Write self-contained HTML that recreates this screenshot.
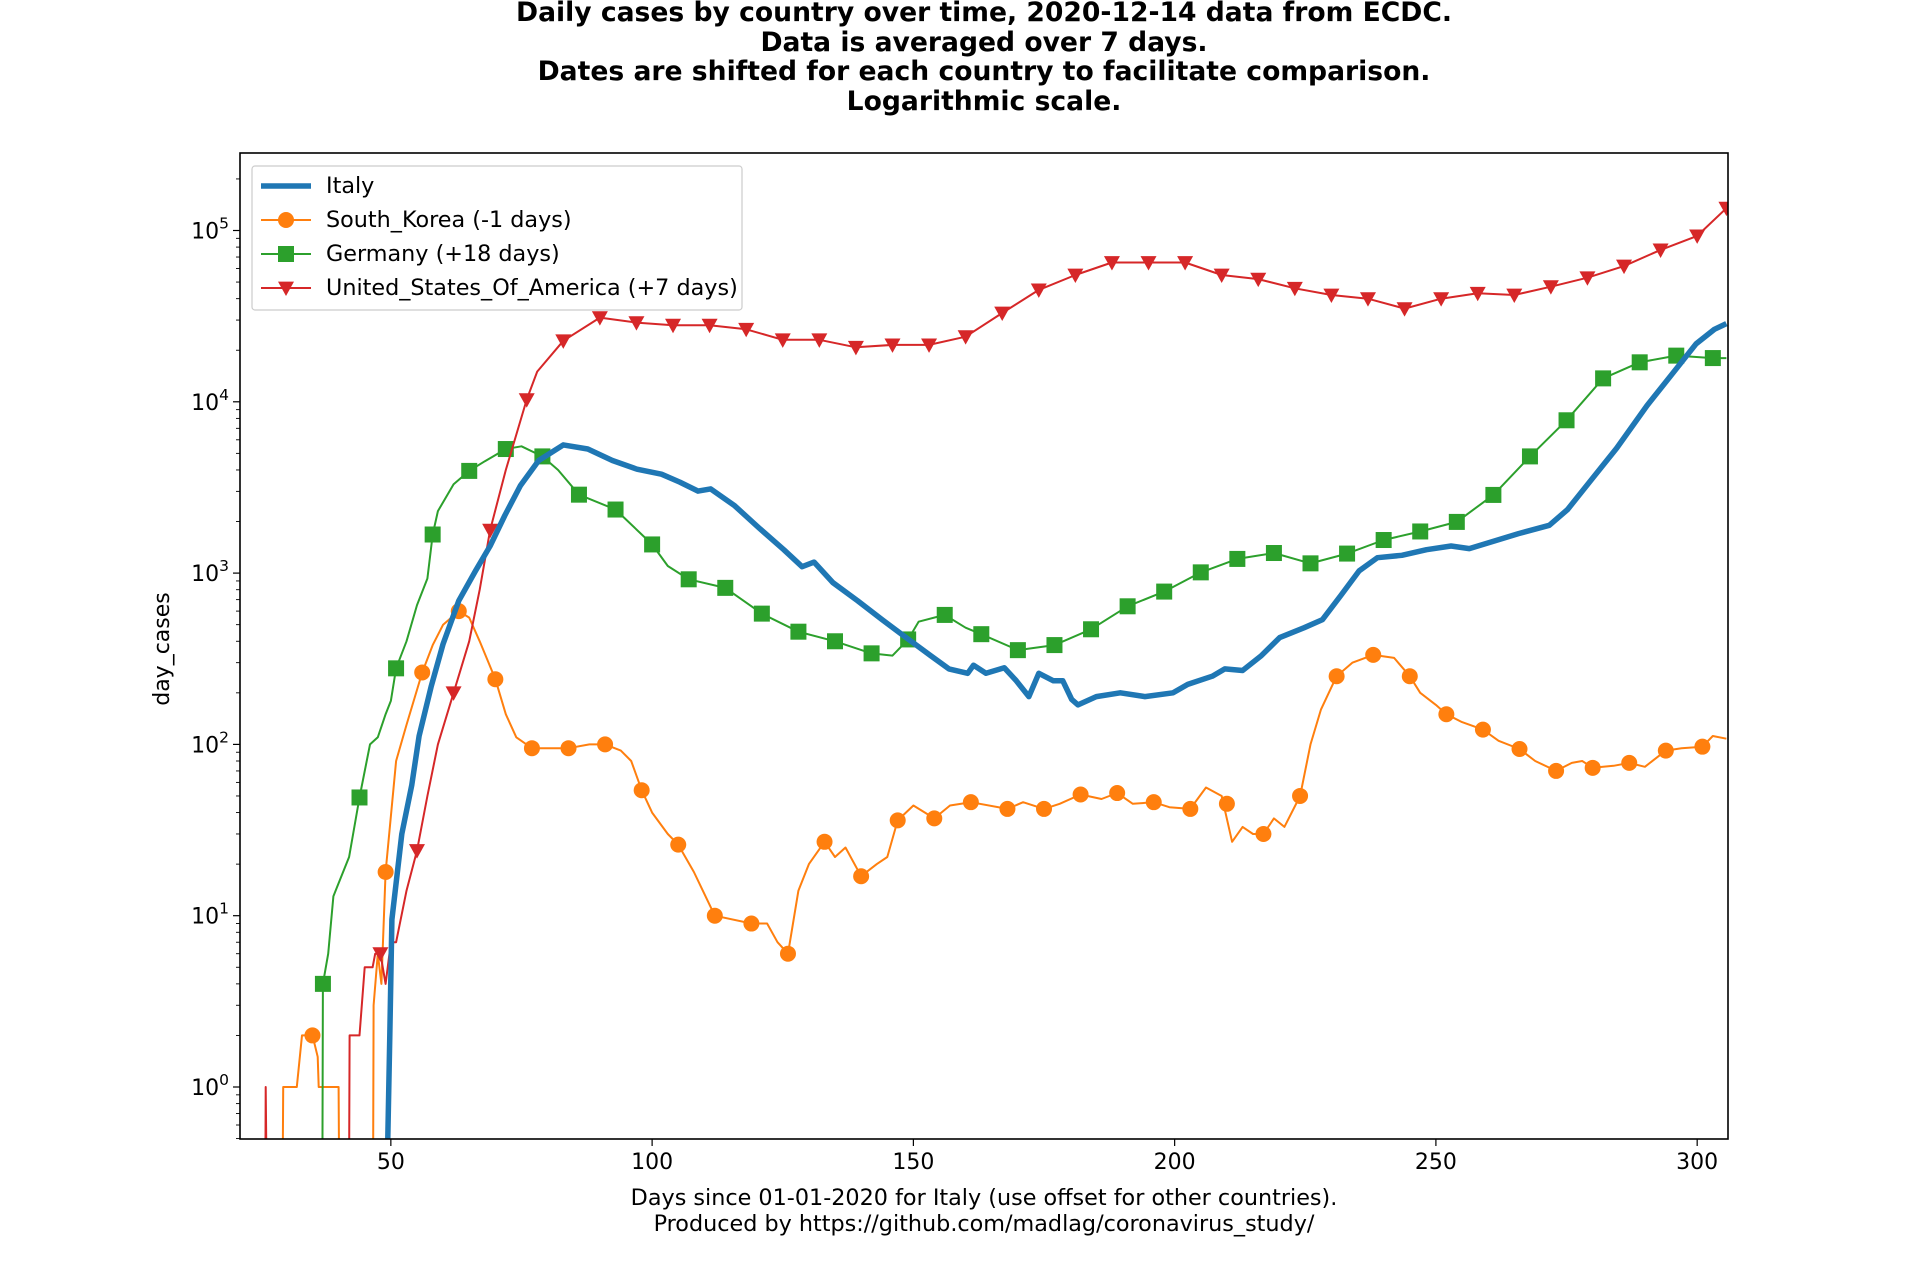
<!DOCTYPE html>
<html><head><meta charset="utf-8"><style>
body{margin:0;background:#fff}
svg text{font-family:"DejaVu Sans","Liberation Sans",sans-serif}
</style></head><body>
<svg id="chart" width="1920" height="1280" xmlns="http://www.w3.org/2000/svg">
<defs><clipPath id="plotclip"><rect x="240" y="153" width="1488" height="986"/></clipPath></defs>
<g font-weight="bold" font-size="26.6" text-anchor="middle">
<text x="984" y="21">Daily cases by country over time, 2020-12-14 data from ECDC.</text>
<text x="984" y="51">Data is averaged over 7 days.</text>
<text x="984" y="80">Dates are shifted for each country to facilitate comparison.</text>
<text x="984" y="110">Logarithmic scale.</text>
</g>
<g id="axes"></g>
<g id="series" clip-path="url(#plotclip)"></g>
<rect x="240" y="153" width="1488" height="986" fill="none" stroke="#000" stroke-width="1.6"/>
<text x="169" y="649" font-size="22" text-anchor="middle" transform="rotate(-90 169 649)">day_cases</text>
<g font-size="22.3" text-anchor="middle">
<text x="984" y="1205">Days since 01-01-2020 for Italy (use offset for other countries).</text>
<text x="984" y="1231">Produced by https://github.com/madlag/coronavirus_study/</text>
</g>
<g id="legend"></g>
</svg>
<script>
const xTicks=[50,100,150,200,250,300];
const yTickExp=[0,1,2,3,4,5];
const italyDays=[49.3,49.8,50.2,52.1,54,55.4,57.7,60,63,66.2,69,71.8,74.8,78.3,83,87.7,92.4,97.1,101.8,105.3,108.8,111.2,115.8,120.5,125.2,128.7,131,134.6,139.3,144,148.6,153.3,156.8,160.4,161.5,163.9,167.4,169.7,172.1,174,176.8,178.6,180.3,181.5,185,189.6,194.3,199.7,202.5,207.2,209.6,213,216.6,220.1,224.8,228.3,231.8,235.3,238.8,243.5,248.2,252.9,256.4,260,265.8,271.7,275.2,279.9,284.6,290.4,295.1,299.8,303.3,305.6];
const italyVals=[0,2,9.5,30,58,112,217,386,690,1030,1440,2170,3240,4540,5600,5300,4540,4040,3780,3400,3010,3100,2470,1830,1370,1090,1160,880,690,535,420,330,276,260,290,260,280,235,190,260,235,235,183,170,190,200,190,200,224,250,276,270,330,420,480,535,740,1030,1230,1270,1370,1440,1390,1500,1700,1900,2350,3550,5370,9500,14400,21800,26500,28600];
const koreaDays=[29.3,29.4,32,33,35,36,36.2,40,40.1,46.6,46.7,47.5,48.2,49,51,53,56,58,60,63,65,67,70,72,74,77,84,88,91,94,96,98,100,103,105,108,112,119,122,124,126,128,130,133,135,137,140,143,145,147,150,154,157,161,168,171,175,178,182,186,189,192,196,199,203,206,209,211,213,215,217,219,221,224,226,228,231,234,238,242,245,247,250,252,255,259,262,266,269,273,276,278,280,284,287,290,294,297,301,303,305.6];
const koreaVals=[0,1,1,2,2,1.5,1,1,0,0,3,6,4,18,80,130,263,380,500,600,550,400,240,150,110,95,95,100,100,92,80,54,40,30,26,18,10,9,9,7,6,14,20,27,22,25,17,20,22,36,44,37,44,46,42,46,42,45,51,48,52,45,46,43,42,56,50,27,33,30,30,37,33,50,100,160,250,300,333,320,250,200,170,150,135,122,105,94,80,70,78,80,73,75,78,74,92,95,97,112,108];
const koreaMarkDays=[35,49,56,63,70,77,84,91,98,105,112,119,126,133,140,147,154,161,168,175,182,189,196,203,210,217,224,231,238,245,252,259,266,273,280,287,294,301];
const koreaMarkVals=[2,18,263,600,240,95,95,100,54,26,10,9,6,27,17,36,37,46,42,42,51,52,46,42,45,30,50,250,333,250,150,122,94,70,73,78,92,97];
const germanyDays=[36.9,37,38,39,42,44,46,47.5,49,50,51,53,55,57,58,59,62,65,68,72,75,79,82,86,93,100,103,107,114,121,128,135,142,146,149,151,156,160,163,170,177,184,191,198,205,212,219,226,233,240,247,254,261,268,275,282,289,296,303,305.6];
const germanyVals=[0,4,6,13,22,49,100,110,150,180,278,400,650,930,1680,2300,3300,3950,4500,5300,5500,4800,4000,2870,2350,1470,1100,920,820,580,455,400,340,330,410,520,570,480,440,355,380,470,640,780,1010,1210,1310,1140,1300,1560,1750,1990,2860,4800,7800,13700,17000,18600,18000,18000];
const germanyMarkDays=[37,44,51,58,65,72,79,86,93,100,107,114,121,128,135,142,149,156,163,170,177,184,191,198,205,212,219,226,233,240,247,254,261,268,275,282,289,296,303];
const germanyMarkVals=[4,49,278,1680,3950,5300,4800,2870,2350,1470,920,820,580,455,400,340,410,570,440,355,380,470,640,780,1010,1210,1310,1140,1300,1560,1750,1990,2860,4800,7800,13700,17000,18600,18000];
const usaDays=[26,26.05,26.2,42,42.1,44,45,46.5,47,48,49,50,51,53,55,57,59,62,65,67,69,72,76,78,83,90,97,104,111,118,125,132,139,146,153,160,167,174,181,188,195,202,209,216,223,230,237,244,251,258,265,272,279,286,293,300,305.6];
const usaVals=[0,1,0,0,2,2,5,5,6,6,4,7,7,14,24,50,100,200,400,800,1780,4000,10300,15000,22700,31000,29000,28000,28000,26500,23000,23000,20800,21500,21500,24000,33000,45000,55000,65000,65000,65000,55000,52000,46000,42000,40000,35000,40000,43000,42000,47000,53000,62000,77000,93000,135000];
const usaMarkDays=[48,55,62,69,76,83,90,97,104,111,118,125,132,139,146,153,160,167,174,181,188,195,202,209,216,223,230,237,244,251,258,265,272,279,286,293,300,305.6];
const usaMarkVals=[6,24,200,1780,10300,22700,31000,29000,28000,28000,26500,23000,23000,20800,21500,21500,24000,33000,45000,55000,65000,65000,65000,55000,52000,46000,42000,40000,35000,40000,43000,42000,47000,53000,62000,77000,93000,135000];

const NS='http://www.w3.org/2000/svg';
const L=240,R=1728,T=153,B=1139;
const xMin=21.13,xMax=305.9;
const y0=1087,dec=171.3;
function X(d){return L+(d-xMin)/(xMax-xMin)*(R-L);}
function Y(v){return v<=0?B+30:y0-Math.log10(v)*dec;}
function mk(tag,attrs,parent){const e=document.createElementNS(NS,tag);for(const k in attrs)e.setAttribute(k,attrs[k]);parent.appendChild(e);return e;}
const axes=document.getElementById('axes');
xTicks.forEach(t=>{
  const l=mk('line',{x1:X(t),x2:X(t),y1:B,y2:B+7,stroke:'#000','stroke-width':1.2},axes);
  
  
  const tx=mk('text',{x:X(t),y:B+30,'font-size':22,'text-anchor':'middle'},axes);
  tx.textContent=t;
  
  
});
yTickExp.forEach(e=>{
  const y=Y(Math.pow(10,e));
  const l=mk('line',{x1:L-7,x2:L,y1:y,y2:y,stroke:'#000','stroke-width':1.2},axes);
  
  
  const tx=mk('text',{x:L-11,y:y+8,'font-size':22,'text-anchor':'end'},axes);
  tx.innerHTML='10<tspan dy="-10" font-size="15.5">'+e+'</tspan>';
  
  
});
for(let e=-1;e<=5;e++){for(let m=2;m<=9;m++){const v=m*Math.pow(10,e);const y=Y(v);if(y<T||y>B)continue;
  const l=mk('line',{x1:L-4,x2:L,y1:y,y2:y,stroke:'#000','stroke-width':0.9},axes);
  
  }}
const ser=document.getElementById('series');
function line(days,vals,color,w,name){
  const d=days.map((x,i)=>(i?'L':'M')+X(x).toFixed(1)+','+Y(vals[i]).toFixed(1)).join('');
  const p=mk('path',{d:d,fill:'none',stroke:color,'stroke-width':w,'stroke-linejoin':'round'},ser);
  
  
}
function marker(g,shape,cx,cy,color,s){
  if(shape==='o')return mk('circle',{cx:cx,cy:cy,r:s,fill:color},g);
  if(shape==='s')return mk('rect',{x:cx-s,y:cy-s,width:2*s,height:2*s,fill:color},g);
  return mk('polygon',{points:(cx-s)+','+(cy-s*0.8)+' '+(cx+s)+','+(cy-s*0.8)+' '+cx+','+(cy+s),fill:color},g);
}
function marks(days,vals,color,shape,name){
  const g=mk('g',{},ser);
  
  
  days.forEach((d,i)=>{const m=marker(g,shape,X(d),Y(vals[i]),color,8);
    
    });
}
line(koreaDays,koreaVals,'#ff7f0e',2,'south-korea-line');
marks(koreaMarkDays,koreaMarkVals,'#ff7f0e','o','south-korea');
line(germanyDays,germanyVals,'#2ca02c',2,'germany-line');
marks(germanyMarkDays,germanyMarkVals,'#2ca02c','s','germany');
line(usaDays,usaVals,'#d62728',2,'usa-line');
marks(usaMarkDays,usaMarkVals,'#d62728','v','usa');
line(italyDays,italyVals,'#1f77b4',5.5,'italy-line');

const lg=document.getElementById('legend');
const box=mk('rect',{x:252,y:166,width:490,height:144,rx:3,fill:'#fff','fill-opacity':0.85,stroke:'#ccc','stroke-width':1.2},lg);


const entries=[['Italy','#1f77b4',5.5,null],['South_Korea (-1 days)','#ff7f0e',2,'o'],['Germany (+18 days)','#2ca02c',2,'s'],['United_States_Of_America (+7 days)','#d62728',2,'v']];
entries.forEach((en,i)=>{
  const y=186+i*34;
  const g=mk('g',{},lg);
  
  
  mk('line',{x1:261,x2:311,y1:y,y2:y,stroke:en[1],'stroke-width':en[2]},g);
  if(en[3])marker(g,en[3],286,y,en[1],8);
  const t=mk('text',{x:326,y:y+7,'font-size':22.3},g);
  t.textContent=en[0];
});
</script>
</body></html>
